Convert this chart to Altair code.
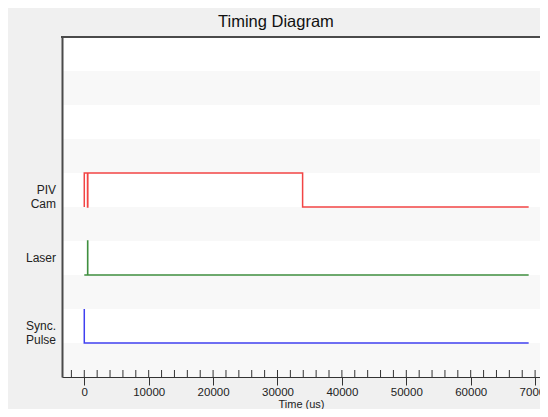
import altair as alt
import pandas as pd

# ---- data ----
lanes = ["PIV Cam", "Laser", "Sync. Pulse"]
lane_labels = ["PIV\nCam", "Laser", "Sync.\nPulse"]
lane_base = [5, 3, 1]          # lane's low level on the 0..10 band scale
lane_colors = ["#f24444", "#3f8f3f", "#4040f0"]

piv_t = [0, 0, 500, 500, 550, 550, 33900, 33900, 69000]
piv_s = [0, 1, 1, 0, 0, 1, 1, 0, 0]
laser_t = [0, 520, 520, 540, 540, 69000]
laser_s = [0, 0, 1, 1, 0, 0]
sync_t = [0, 0, 69000]
sync_s = [1, 0, 0]

gray_band_low = [0, 2, 4, 6, 8]
major_ticks = [0, 10000, 20000, 30000, 40000, 50000, 60000, 70000]
minor_ticks = list(range(-2000, 70001, 2000))

X_DOMAIN = [-3460, 70760]
W, H = 478, 340

rows = []
for name, base, ts, ss in zip(lanes, lane_base, [piv_t, laser_t, sync_t], [piv_s, laser_s, sync_s]):
    for i, (t, s) in enumerate(zip(ts, ss)):
        rows.append({"signal": name, "t": t, "level": base + s, "idx": i})
sig_df = pd.DataFrame(rows)
band_df = pd.DataFrame({"lo": gray_band_low, "hi": [v + 1 for v in gray_band_low]})
lab_df = pd.DataFrame({"label": lane_labels, "pos": [b + 0.5 for b in lane_base]})
tick_df = pd.DataFrame({"t": minor_ticks})

xscale = alt.Scale(domain=X_DOMAIN, nice=False, zero=False)
yscale = alt.Scale(domain=[0, 10], nice=False, zero=False)

bands = alt.Chart(band_df).mark_rect(color="#f8f8f8").encode(
    y=alt.Y("lo:Q", scale=yscale,
            axis=alt.Axis(labels=False, ticks=False, grid=False, title=None,
                          domainColor="#4a4a4a", domainWidth=2, zindex=2)),
    y2="hi:Q",
)

top_border = alt.Chart(pd.DataFrame({"a": [0]})).mark_rule(color="#4a4a4a", strokeWidth=2).encode(
    x=alt.value(-1), x2=alt.value(W), y=alt.value(0)
)

inner_ticks = alt.Chart(tick_df).mark_rule(color="#333333", strokeWidth=1).encode(
    x=alt.X("t:Q", scale=xscale,
            axis=alt.Axis(values=major_ticks, format="d", tickSize=8, tickColor="#333333",
                          domainColor="#333333", grid=False, labelFontSize=11.5,
                          labelFont="Liberation Sans", labelColor="#222222",
                          labelPadding=1, labelFlush=False, labelOverlap=False, zindex=2,
                          title="Time (us)", titleFont="Liberation Sans", titleFontSize=11,
                          titleFontWeight="normal", titleColor="#222222", titlePadding=1)),
    y=alt.value(H), y2=alt.value(H - 7),
)

lines = alt.Chart(sig_df).mark_line(strokeWidth=1.5, interpolate="linear").encode(
    x=alt.X("t:Q", scale=xscale),
    y=alt.Y("level:Q", scale=yscale),
    color=alt.Color("signal:N", scale=alt.Scale(domain=lanes, range=lane_colors), legend=None),
    order="idx:Q",
)

labels = alt.Chart(lab_df).mark_text(
    align="right", baseline="middle", lineBreak="\n", lineHeight=14,
    fontSize=12, font="Liberation Sans", color="#222222"
).encode(
    x=alt.value(-6),
    y=alt.Y("pos:Q", scale=yscale),
    text="label:N",
)

chart = alt.layer(bands, inner_ticks, lines, labels, top_border).properties(
    width=W, height=H,
    background="#f0f0f0",
    padding={"left": 54, "top": 29, "right": 0, "bottom": 32},
    autosize=alt.AutoSizeParams(type="none"),
    title=alt.TitleParams("Timing Diagram", anchor="start", frame="group", dx=156,
                          fontSize=16.5, font="Liberation Sans", fontWeight="normal",
                          color="#111111", offset=6),
).configure_view(stroke=None, fill="white")

chart.save("out.html", embed_options={"renderer": "svg", "actions": False})
